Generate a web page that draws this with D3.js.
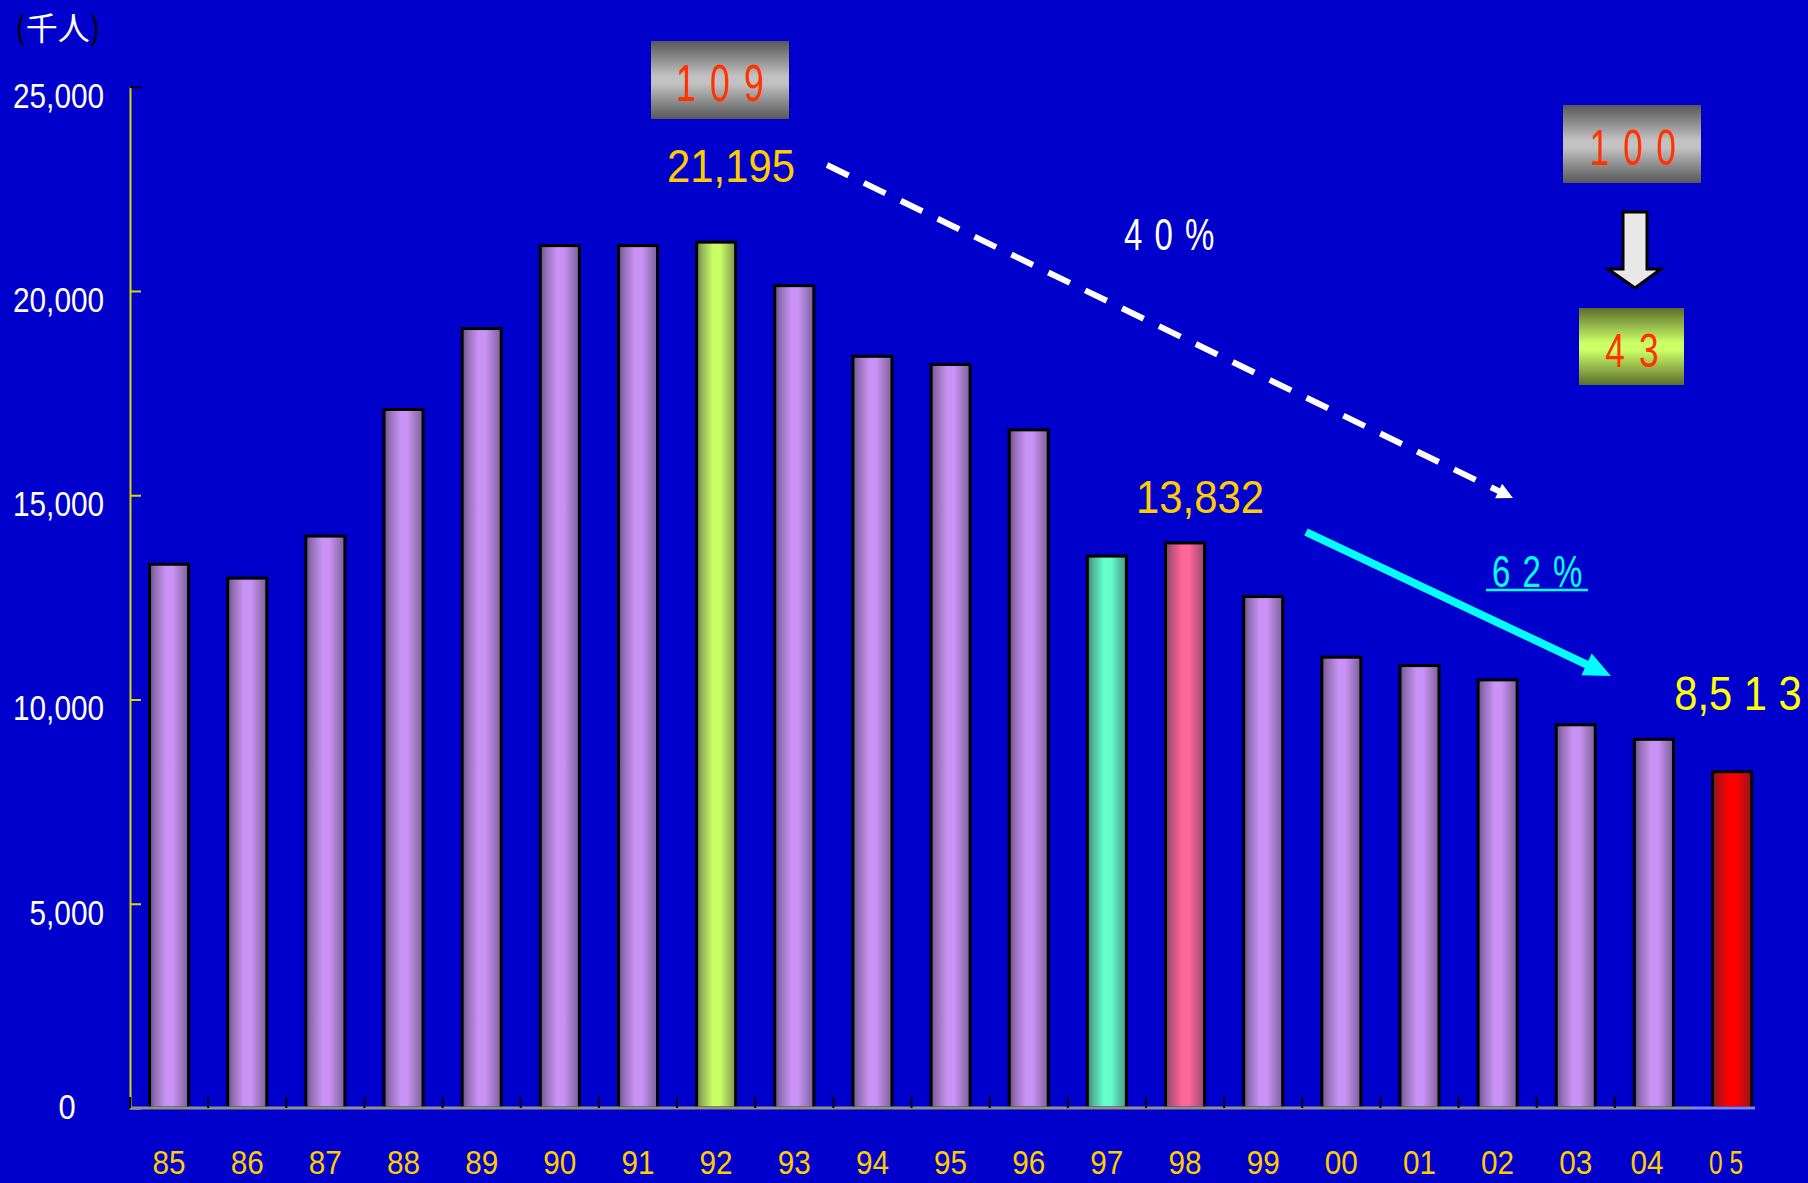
<!DOCTYPE html>
<html>
<head>
<meta charset="utf-8">
<script src="https://cdn.jsdelivr.net/npm/d3@7"></script>
<style>
  html, body { margin: 0; padding: 0; background: #0000CC; }
  svg { display: block; }
</style>
</head>
<body>
<svg id="chart" width="1808" height="1183"></svg>
<script>
// ---- data ----
const categories = ["85","86","87","88","89","90","91","92","93","94","95","96","97","98","99","00","01","02","03","04","05"];
const values = [13310,12970,14000,17100,19080,21110,21110,21195,20130,18400,18200,16600,13510,13832,12520,11035,10830,10480,9380,9025,8232];
const yTicks = [0,5000,10000,15000,20000,25000];
const unitLabel = "千人";
const peakLabel = "21,195";
const midLabel = "13,832";
const lastLabel = "8,5 1 3";
const indexPeak = "1 0 9";
const indexBase = "1 0 0";
const indexLast = "4 3";
const dropLong = "4 0 %";
const dropShort = "6 2 %";

// ---- style config ----
const baseColor = "#C993F5";
const highlight = { "92": "#CCFF66", "97": "#66FFCC", "98": "#FF6699", "05": "#FF0000" };

const svg = d3.select("#chart");
svg.append("rect").attr("width", 1808).attr("height", 1183).attr("fill", "#0000CC");

const x = d3.scaleBand().domain(categories).range([130, 130 + 21 * 78.15]).paddingInner(0.5).paddingOuter(0.25);
const y = d3.scaleLinear().domain([0, 25000]).range([1108, 86.7]);

const defs = svg.append("defs");
function cylGrad(id, c) {
  const g = defs.append("linearGradient").attr("id", id).attr("x1", "0%").attr("x2", "100%").attr("y1", "0%").attr("y2", "0%");
  const dkL = d3.interpolateRgb(c, "#2a2a3a")(0.62);
  const dkR = d3.interpolateRgb(c, "#2a2a3a")(0.5);
  g.append("stop").attr("offset", "0%").attr("stop-color", dkL);
  g.append("stop").attr("offset", "14%").attr("stop-color", d3.interpolateRgb(c, "#2a2a3a")(0.35));
  g.append("stop").attr("offset", "42%").attr("stop-color", c);
  g.append("stop").attr("offset", "60%").attr("stop-color", c);
  g.append("stop").attr("offset", "100%").attr("stop-color", dkR);
}
function boxGrad(id, dark, light) {
  const g = defs.append("linearGradient").attr("id", id).attr("x1", "0%").attr("x2", "0%").attr("y1", "0%").attr("y2", "100%");
  g.append("stop").attr("offset", "0%").attr("stop-color", dark);
  g.append("stop").attr("offset", "45%").attr("stop-color", light);
  g.append("stop").attr("offset", "55%").attr("stop-color", light);
  g.append("stop").attr("offset", "100%").attr("stop-color", dark);
}
const colorOf = c => highlight[c] || baseColor;
const gradId = c => "g" + colorOf(c).slice(1);
Array.from(new Set(categories.map(colorOf))).forEach(c => cylGrad("g" + c.slice(1), c));
boxGrad("boxGrey", "#575757", "#c2c2c2");
boxGrad("boxGreen", "#5c6d2c", "#ccff66");

// ---- y axis ----
const yAxis = d3.axisLeft(y).tickValues(yTicks).tickSizeInner(-11).tickSizeOuter(0).tickPadding(26)
  .tickFormat(d3.format(","));
const ya = svg.append("g").attr("transform", "translate(130,0)").call(yAxis);
ya.select(".domain").attr("stroke", "#D8D800").attr("stroke-width", 2);
ya.selectAll(".tick line").attr("stroke", d => d === 25000 ? "#000" : "#D8D800").attr("stroke-width", 2);
ya.selectAll(".tick text")
  .attr("x", 0)
  .attr("fill", "#fff")
  .style("font-family", "'Liberation Sans', Arial, sans-serif")
  .style("font-size", "35px")
  .attr("dy", d => d === 0 ? "0.3em" : "0.58em")
  .attr("text-anchor", d => d === 0 ? "middle" : "end")
  .attr("transform", d => d === 0 ? "translate(-63,0) scale(0.88,1)" : "translate(-26,0) scale(0.85,1)");

// ---- bars ----
svg.append("g").selectAll("rect").data(categories).join("rect")
  .attr("x", c => x(c))
  .attr("y", (c, i) => y(values[i]))
  .attr("width", x.bandwidth())
  .attr("height", (c, i) => y(0) - y(values[i]))
  .attr("fill", c => `url(#${gradId(c)})`)
  .attr("stroke", "#000")
  .attr("stroke-width", 3);

// ---- x axis ----
const gap = (x.step() - x.bandwidth()) / 2;
const xa = svg.append("g");
xa.append("line").attr("x1", 130).attr("x2", x("05") - gap).attr("y1", y(0)).attr("y2", y(0))
  .attr("stroke", "#8f8f8f").attr("stroke-width", 3);
xa.append("line").attr("x1", x("05") - gap).attr("x2", 1755).attr("y1", y(0)).attr("y2", y(0))
  .attr("stroke", "#8080ff").attr("stroke-width", 3);
xa.selectAll(".xt").data(categories.slice(0, 20)).join("line").attr("class", "xt")
  .attr("x1", c => x(c) - gap).attr("x2", c => x(c) - gap)
  .attr("y1", y(0)).attr("y2", y(0) - 11)
  .attr("stroke", "#000").attr("stroke-width", 2);
xa.selectAll(".xl").data(categories).join("text").attr("class", "xl")
  .attr("transform", c => `translate(${x(c) + x.bandwidth() / 2 - (c === "05" ? 6 : c === "04" ? 7 : 0)},1174) scale(${c === "05" ? 0.72 : 0.9},1)`)
  .attr("text-anchor", "middle")
  .attr("fill", "#FFCC00")
  .style("font-family", "'Liberation Sans', Arial, sans-serif")
  .style("font-size", c => c === "05" ? "34px" : "33px")
  .text(c => c === "05" ? "0 5" : c);

// ---- text helper ----
function label(px, py, str, o) {
  return svg.append("text")
    .attr("transform", `translate(${px},${py}) scale(${o.sx || 1},1)`)
    .attr("text-anchor", o.anchor || "middle")
    .attr("fill", o.fill)
    .style("font-family", o.family || "'Liberation Sans', Arial, sans-serif")
    .style("font-size", o.size + "px")
    .style("letter-spacing", (o.ls || 0) + "px")
    .text(str);
}

// unit label
const ut = svg.append("text").attr("x", 15).attr("y", 40)
  .style("font-family", "'Noto Sans CJK JP', sans-serif").style("font-size", "32px");
ut.append("tspan").attr("fill", "#000").text("(");
ut.append("tspan").attr("fill", "#fff").text(unitLabel);
ut.append("tspan").attr("fill", "#000").text(")");

// boxes
svg.append("rect").attr("x", 651).attr("y", 41).attr("width", 138).attr("height", 78).attr("fill", "url(#boxGrey)");
label(721, 101, indexPeak, { size: 51, fill: "#FF3300", sx: 0.7, ls: 3 });
svg.append("rect").attr("x", 1563).attr("y", 105).attr("width", 138).attr("height", 78).attr("fill", "url(#boxGrey)");
label(1634, 165, indexBase, { size: 50, fill: "#FF3300", sx: 0.7, ls: 3 });
svg.append("rect").attr("x", 1579).attr("y", 308).attr("width", 105).attr("height", 77).attr("fill", "url(#boxGreen)");
label(1633, 367, indexLast, { size: 49, fill: "#FF3300", sx: 0.72, ls: 3 });

// block arrow down
svg.append("polygon")
  .attr("points", [[1623,212],[1647,212],[1647,269],[1661,269],[1635,288],[1608,269],[1623,269]].map(p => p.join(",")).join(" "))
  .attr("fill", "#e8e8e8").attr("stroke", "#000").attr("stroke-width", 3).attr("stroke-linejoin", "miter");

// value labels
label(731, 182, peakLabel, { size: 47, fill: "#FFCC00", sx: 0.89 });
label(1200, 513, midLabel, { size: 47, fill: "#FFCC00", sx: 0.89 });
label(1738, 710, lastLabel, { size: 49, fill: "#FFFF00", sx: 0.85 });

// arrows
function arrow(x1, y1, x2, y2, hl, hw, color, width, dash) {
  const dx = x2 - x1, dy = y2 - y1, L = Math.hypot(dx, dy), ux = dx / L, uy = dy / L;
  const bx = x2 - ux * hl, by = y2 - uy * hl;
  svg.append("line").attr("x1", x1).attr("y1", y1).attr("x2", bx + ux * 2).attr("y2", by + uy * 2)
    .attr("stroke", color).attr("stroke-width", width).attr("stroke-dasharray", dash || null);
  svg.append("polygon")
    .attr("points", [[x2, y2], [bx - uy * hw, by + ux * hw], [bx + uy * hw, by - ux * hw]].map(p => p.join(",")).join(" "))
    .attr("fill", color);
}
arrow(827, 165, 1513, 498, 16, 8, "#fff", 6, "24 17");
arrow(1306, 532, 1611, 676, 27, 12, "#00FFFF", 8, null);

label(1170, 250, dropLong, { size: 44, fill: "#fff", sx: 0.75, ls: 2 });
label(1538, 587, dropShort, { size: 44, fill: "#00FFFF", sx: 0.75, ls: 2 });
svg.append("line").attr("x1", 1486).attr("x2", 1588).attr("y1", 590).attr("y2", 590).attr("stroke", "#00FFFF").attr("stroke-width", 2.5);
</script>
</body>
</html>
